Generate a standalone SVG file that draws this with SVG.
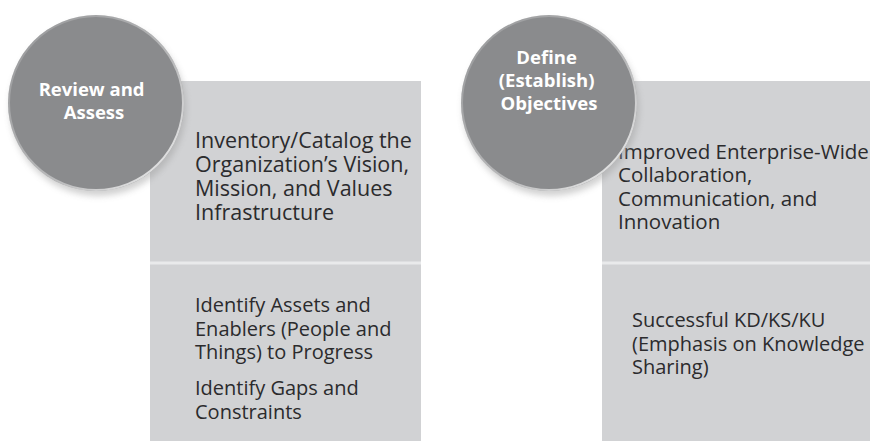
<svg xmlns="http://www.w3.org/2000/svg" width="870" height="441" viewBox="0 0 870 441">
  <defs>
    <filter id="shadow" x="-20%" y="-20%" width="140%" height="150%">
      <feGaussianBlur stdDeviation="3"/>
    </filter>
    <linearGradient id="rim" x1="0" y1="0" x2="1" y2="1">
      <stop offset="0" stop-color="#ffffff" stop-opacity="0.1"/>
      <stop offset="0.6" stop-color="#ffffff" stop-opacity="0.4"/>
      <stop offset="1" stop-color="#ffffff" stop-opacity="0.9"/>
    </linearGradient>
  </defs>
  <style>
    .panel { fill: #d1d2d4; }
    .divider { stroke: #e9eaeb; stroke-width: 3; }
    .circle { fill: #8a8b8d; }
    .rim { fill: none; stroke: url(#rim); stroke-width: 2; }
    .shade { fill: #9a9a9a; opacity: 0.45; }
    .ctext { font-family: "Open Sans", "Noto Sans", sans-serif; font-weight: bold; font-size: 18.5px; fill: #ffffff; text-anchor: middle; }
    .ptext { font-family: "Open Sans", "Noto Sans", sans-serif; font-size: 20px; fill: #2b2b2d; }
    .big { font-size: 21.5px; }
    .mid { font-size: 20.5px; }
  </style>
  <rect width="870" height="441" fill="#ffffff"/>

  <g id="panel-left">
    <rect class="panel" x="150" y="81" width="271" height="360"/>
    <line class="divider" x1="150" y1="263" x2="421" y2="263"/>
    <text class="ptext big">
      <tspan x="195" y="148">Inventory/Catalog the</tspan>
      <tspan x="195" y="172">Organization’s Vision,</tspan>
      <tspan x="195" y="196">Mission, and Values</tspan>
      <tspan x="195" y="220">Infrastructure</tspan>
    </text>
    <text class="ptext">
      <tspan x="195" y="312">Identify Assets and</tspan>
      <tspan x="195" y="335.5">Enablers (People and</tspan>
      <tspan x="195" y="359">Things) to Progress</tspan>
    </text>
    <text class="ptext">
      <tspan x="195" y="395">Identify Gaps and</tspan>
      <tspan x="195" y="418.5">Constraints</tspan>
    </text>
  </g>

  <g id="panel-right">
    <rect class="panel" x="602" y="81" width="268" height="360"/>
    <line class="divider" x1="602" y1="263" x2="870" y2="263"/>
    <text class="ptext mid">
      <tspan x="618" y="158.5">Improved Enterprise-Wide</tspan>
      <tspan x="618" y="182">Collaboration,</tspan>
      <tspan x="618" y="205.5">Communication, and</tspan>
      <tspan x="618" y="229">Innovation</tspan>
    </text>
    <text class="ptext">
      <tspan x="632" y="327">Successful KD/KS/KU</tspan>
      <tspan x="632" y="350.5">(Emphasis on Knowledge</tspan>
      <tspan x="632" y="374">Sharing)</tspan>
    </text>
  </g>

  <g id="circle-review">
    <ellipse class="shade" cx="98" cy="108" rx="88" ry="88" filter="url(#shadow)"/>
    <circle class="circle" cx="96" cy="103" r="88"/>
    <circle class="rim" cx="96" cy="103" r="87"/>
    <text class="ctext">
      <tspan x="94" y="96">Review and</tspan>
      <tspan x="94" y="119">Assess</tspan>
    </text>
  </g>

  <g id="circle-define">
    <ellipse class="shade" cx="551" cy="108" rx="88" ry="88" filter="url(#shadow)"/>
    <circle class="circle" cx="549" cy="103" r="88"/>
    <circle class="rim" cx="549" cy="103" r="87"/>
    <text class="ctext">
      <tspan x="549" y="64">Define</tspan>
      <tspan x="549" y="87">(Establish)</tspan>
      <tspan x="549" y="110">Objectives</tspan>
    </text>
  </g>

  <g id="connectors"/>
</svg>
